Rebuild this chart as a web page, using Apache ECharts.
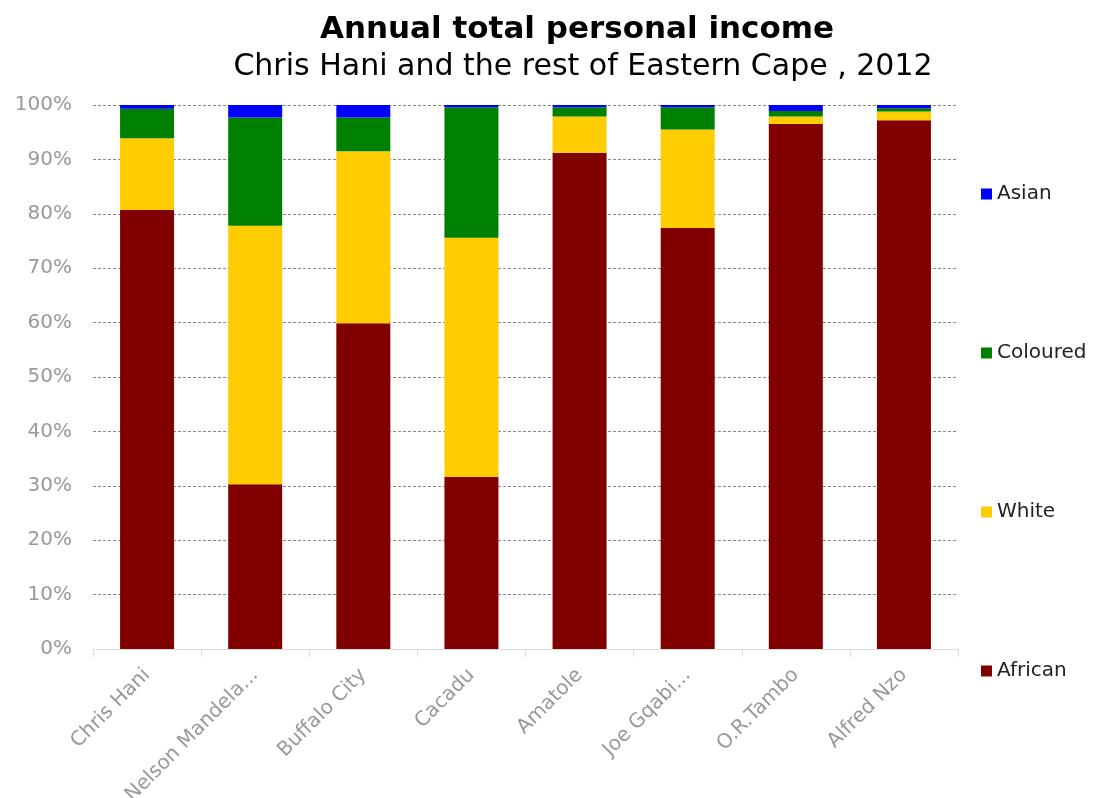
<!DOCTYPE html>
<html>
<head>
<meta charset="utf-8">
<style>
  html, body { margin: 0; padding: 0; background: #fff; }
  #chart { width: 1093px; height: 798px; }
</style>
<script src="https://cdn.jsdelivr.net/npm/echarts@6/dist/echarts.min.js"></script>
</head>
<body>
<div id="chart"></div>
<script>
// Districts of the Eastern Cape
const categories = ['Chris Hani', 'Nelson Mandela...', 'Buffalo City', 'Cacadu', 'Amatole', 'Joe Gqabi...', 'O.R.Tambo', 'Alfred Nzo'];

// Share of annual total personal income by population group (%)
const african  = [80.7, 30.3, 59.9, 31.6, 91.2, 77.4, 96.5, 97.2];
const white    = [13.2, 47.5, 31.6, 44.0,  6.7, 18.1,  1.4,  1.6];
const coloured = [ 5.4, 19.9,  6.2, 24.0,  1.7,  4.1,  1.0,  0.6];
const asian    = [ 0.7,  2.3,  2.3,  0.4,  0.4,  0.4,  1.1,  0.6];

const yTicks = [0, 10, 20, 30, 40, 50, 60, 70, 80, 90, 100];

const chart = echarts.init(document.getElementById('chart'));

function bar(name, data, color) {
  return {
    name: name,
    type: 'bar',
    stack: 'total',
    data: data,
    barWidth: 54,
    itemStyle: { color: color },
    emphasis: { disabled: true }
  };
}

chart.setOption({
  animation: false,
  textStyle: { fontFamily: 'DejaVu Sans' },
  title: [
    {
      text: 'Annual total personal income',
      left: 572, top: 9, textAlign: 'center',
      textStyle: { fontFamily: 'DejaVu Sans', fontWeight: 'bold', fontSize: 31, color: '#000' }
    },
    {
      text: 'Chris Hani and the rest of Eastern Cape , 2012',
      left: 578, top: 47, textAlign: 'center',
      textStyle: { fontFamily: 'DejaVu Sans', fontWeight: 'normal', fontSize: 30, color: '#000' }
    }
  ],
  legend: {
    orient: 'vertical',
    left: 976, top: 179,
    itemWidth: 11, itemHeight: 11,
    itemGap: 139,
    itemStyle: { borderWidth: 0 },
    icon: 'rect',
    data: ['Asian', 'Coloured', 'White', 'African'],
    textStyle: { fontFamily: 'DejaVu Sans', fontSize: 20, color: '#222' }
  },
  grid: { left: 93, right: 135, top: 105, bottom: 149, outerBoundsMode: 'none' },
  xAxis: {
    type: 'category',
    data: categories,
    axisLine: { lineStyle: { color: '#ddd', width: 1 } },
    axisTick: { show: true, length: 8, lineStyle: { color: '#ddd' } },
    axisLabel: {
      rotate: 45, fontSize: 20, color: '#999', margin: 23,
      fontFamily: 'DejaVu Sans'
    }
  },
  yAxis: {
    type: 'value',
    min: 0, max: 100, interval: 10,
    axisLine: { show: false },
    axisTick: { show: false },
    axisLabel: {
      fontSize: 20, color: '#999', margin: 21,
      fontFamily: 'DejaVu Sans',
      formatter: v => yTicks.includes(v) ? v + '%' : ''
    },
    splitLine: { lineStyle: { color: '#888', type: [3, 2], width: 1 } }
  },
  series: [
    bar('African', african, '#800000'),
    bar('White', white, '#FFCC00'),
    bar('Coloured', coloured, '#008000'),
    bar('Asian', asian, '#0000FF')
  ]
});
</script>
</body>
</html>
